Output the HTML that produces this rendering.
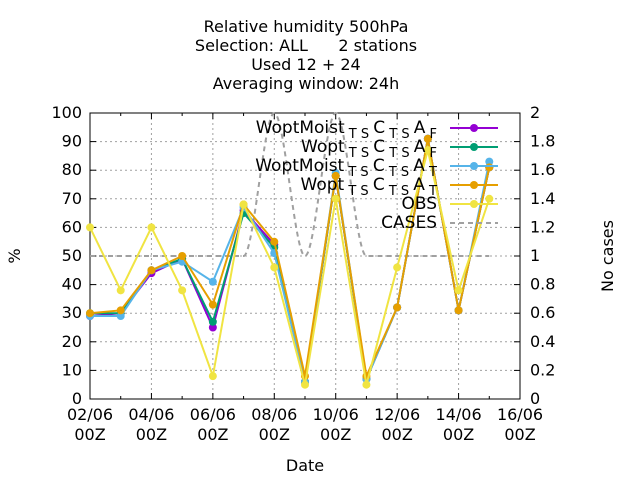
<!DOCTYPE html>
<html><head><meta charset="utf-8"><style>
html,body{margin:0;padding:0;background:#fff;}
svg{display:block;font-family:"DejaVu Sans","Liberation Sans",sans-serif;}
</style></head><body>
<svg id="chart" width="640" height="480" viewBox="0 0 640 480" xmlns="http://www.w3.org/2000/svg">
<g font-size="16" text-anchor="middle" fill="#000">
<text x="306" y="32">Relative humidity 500hPa</text>
<text x="306" y="51" xml:space="preserve">Selection: ALL      2 stations</text>
<text x="306" y="70">Used  12 + 24</text>
<text x="306" y="89">Averaging window: 24h</text>
</g>
<g id="grid"></g>
<g id="axes"></g>
<g id="series"></g>
<g id="legend"></g>
<text x="305" y="471" font-size="16" text-anchor="middle">Date</text>
<text x="20" y="256" font-size="16" text-anchor="middle" transform="rotate(-90 20 256)">%</text>
<text x="613" y="256" font-size="16" text-anchor="middle" transform="rotate(-90 613 256)">No cases</text>
</svg>
<script>
const days = [2,3,4,5,6,7,8,9,10,11,12,13,14,15];
const seriesNames = ["WoptMoist TS CTS AF","Wopt TS CTS AF","WoptMoist TS CTS AT","Wopt TS CTS AT","OBS"];
const s1 = [29,30,44,49,25,66,54,6,78,7,32,91,31,81];
const s2 = [30,30,45,49,27,65,53,6,78,7,32,91,31,81];
const s3 = [29,29,45,48,41,67,51,6,79,7,32,91,31,83];
const s4 = [30,31,45,50,33,68,55,8,78,8,32,91,31,81];
const obs = [60,38,60,38,8,68,46,5,70,5,46,87,38,70];
const cases = [1,1,1,1,1,1,2,1,2,1,1,1,1,1];
const xTickLabels = ["02/06","04/06","06/06","08/06","10/06","12/06","14/06","16/06"];
const yTicks = [0,10,20,30,40,50,60,70,80,90,100];
const y2Ticks = ["0","0.2","0.4","0.6","0.8","1","1.2","1.4","1.6","1.8","2"];

const NS="http://www.w3.org/2000/svg";
const L=90,R=520,T=113,B=399;
const xS=d=>L+(d-2)*(R-L)/14;
const yS=v=>B-v*(B-T)/100;
const y2S=v=>B-v*(B-T)/2;
function mk(tag,attrs,parent){const e=document.createElementNS(NS,tag);for(const k in attrs)e.setAttribute(k,attrs[k]);parent.appendChild(e);return e;}
const grid=document.getElementById('grid'),axes=document.getElementById('axes'),ser=document.getElementById('series'),leg=document.getElementById('legend');

yTicks.forEach((v,i)=>{
  const y=yS(v);
  if(v>0&&v<100){const g=mk('line',{x1:L,x2:R,y1:y,y2:y,stroke:'#a0a0a0','stroke-dasharray':'2,3'},grid);
  
  }
  mk('line',{x1:L,x2:L+6,y1:y,y2:y,stroke:'#000'},axes);
  mk('line',{x1:R,x2:R-6,y1:y,y2:y,stroke:'#000'},axes);
  const t=mk('text',{x:L-8,y:y+5,'font-size':16,'text-anchor':'end'},axes);t.textContent=v;
  
  
  const t2=mk('text',{x:R+10,y:y+5,'font-size':16,'text-anchor':'start'},axes);t2.textContent=y2Ticks[i];
  
  
});
for(let d=2;d<=16;d++){
  const x=xS(d),major=(d%2===0);
  mk('line',{x1:x,x2:x,y1:B,y2:B-(major?6:3),stroke:'#000'},axes);
  mk('line',{x1:x,x2:x,y1:T,y2:T+(major?6:3),stroke:'#000'},axes);
  if(major){
    if(d>2&&d<16){const g=mk('line',{x1:x,x2:x,y1:T,y2:B,stroke:'#a0a0a0','stroke-dasharray':'2,3'},grid);
    
    }
    const t=mk('text',{x:x,y:B+21,'font-size':16,'text-anchor':'middle'},axes);t.textContent=xTickLabels[(d-2)/2];
    
    
    const t2=mk('text',{x:x,y:B+41,'font-size':16,'text-anchor':'middle'},axes);t2.textContent="00Z";
    
    
  }
}
const frame=mk('rect',{x:L,y:T,width:R-L,height:B-T,fill:'none',stroke:'#000'},axes);



const cp=days.map((d,i)=>[xS(d),y2S(cases[i])]);
const n=cp.length,sl=[],m=[];
for(let i=0;i<n-1;i++)sl.push((cp[i+1][1]-cp[i][1])/(cp[i+1][0]-cp[i][0]));
for(let i=0;i<n;i++){
  if(i===0)m.push(sl[0]);else if(i===n-1)m.push(sl[n-2]);
  else m.push(sl[i-1]*sl[i]<=0?0:(sl[i-1]+sl[i])/2);
}
let dstr=`M${cp[0][0]},${cp[0][1]}`;
for(let i=0;i<n-1;i++){
  const h=(cp[i+1][0]-cp[i][0])/3;
  dstr+=` C${cp[i][0]+h},${cp[i][1]+m[i]*h} ${cp[i+1][0]-h},${cp[i+1][1]-m[i+1]*h} ${cp[i+1][0]},${cp[i+1][1]}`;
}
const cl=mk('path',{d:dstr,fill:'none',stroke:'#a0a0a0','stroke-width':2,'stroke-dasharray':'5,4'},ser);



const colors=['#9400d3','#009e73','#56b4e9','#e69f00','#f0e442'];
const vals=[s1,s2,s3,s4,obs];
const names=['series-woptmoist-af','series-wopt-af','series-woptmoist-at','series-wopt-at','series-obs'];
vals.forEach((arr,k)=>{
  const g=mk('g',{},ser);
  
  
  mk('polyline',{points:days.map((d,i)=>xS(d)+','+yS(arr[i])).join(' '),fill:'none',stroke:colors[k],'stroke-width':2},g);
  days.forEach((d,i)=>{const c=mk('circle',{cx:xS(d),cy:yS(arr[i]),r:4,fill:colors[k]},g);
    
    });
});

const rows=[['WoptMoist','F'],['Wopt','F'],['WoptMoist','T'],['Wopt','T']];
rows.forEach((r,i)=>{
  const y=128+i*19;
  const t=mk('text',{x:437,y:y+5,'font-size':17,'text-anchor':'end'},leg);
  t.innerHTML=`${r[0]}<tspan font-size="13" dy="5"> T S </tspan><tspan dy="-5">C</tspan><tspan font-size="13" dy="5"> T S </tspan><tspan dy="-5">A</tspan><tspan font-size="13" dy="5"> ${r[1]}</tspan>`;
  
  
});
['OBS','CASES'].forEach((s,j)=>{
  const t=mk('text',{x:437,y:128+(4+j)*19+5,'font-size':17,'text-anchor':'end'},leg);t.textContent=s;
  
  
});
for(let i=0;i<6;i++){
  const y=128+i*19;
  const g=mk('g',{},leg);
  
  
  if(i<5){mk('line',{x1:450,x2:498,y1:y,y2:y,stroke:colors[i],'stroke-width':2},g);mk('circle',{cx:474,cy:y,r:4,fill:colors[i]},g);}
  else mk('line',{x1:450,x2:498,y1:y,y2:y,stroke:'#a0a0a0','stroke-width':2,'stroke-dasharray':'5,4'},g);
}
</script>
</body></html>
